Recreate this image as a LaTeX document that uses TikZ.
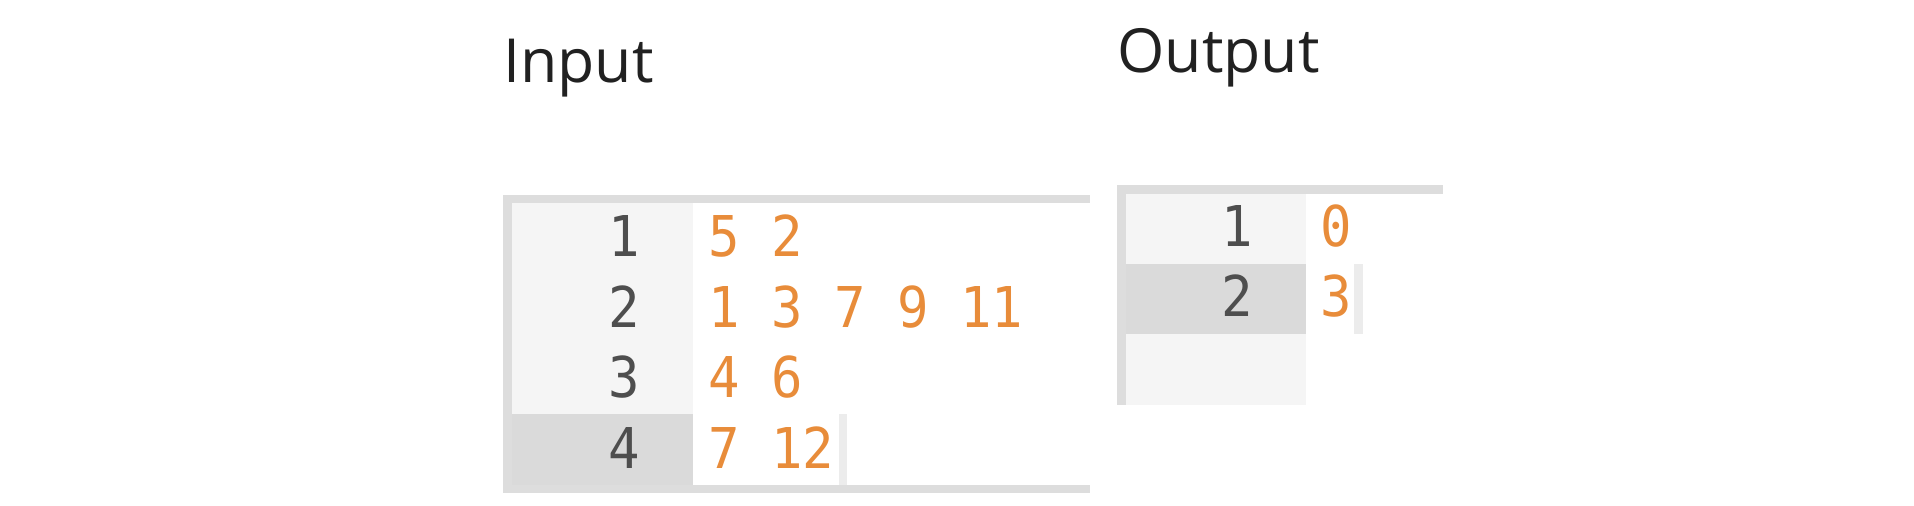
\documentclass[tikz,border=0pt]{standalone}
\usepackage{fontspec}
\setmainfont{Open Sans}
\setmonofont[FakeStretch=0.93]{DejaVu Sans Mono}
\usetikzlibrary{positioning}
\definecolor{codeorange}{RGB}{232,140,58}
\definecolor{numgray}{RGB}{78,78,78}
\definecolor{framegray}{RGB}{221,221,221}
\definecolor{guttergray}{RGB}{245,245,245}
\definecolor{activegray}{RGB}{218,218,218}
\definecolor{cursorgray}{RGB}{236,236,236}

\begin{document}
\begin{tikzpicture}[x=0.02cm, y=-0.02cm]
 \tikzset{
title/.style = {anchor=base west, inner sep=0, text=black!87, font=\fontsize{34.6}{41}\selectfont},
linenum/.style = {anchor=base east, inner sep=0, text=numgray, font=\ttfamily\fontsize{32}{38}\selectfont},
code/.style = {anchor=base west, inner sep=0, text=codeorange, font=\ttfamily\fontsize{32}{38}\selectfont},
frame/.style = {fill=framegray},
gutter/.style = {fill=guttergray},
active line/.style = {fill=activegray},
cursor/.style = {fill=cursorgray}}

    \useasboundingbox (0,0) rectangle (1914,506);

    \node [title] (InTitle) at (503,83) {Input};
    \node [title] (OutTitle) at (1117,73) {Output};

    \fill [frame] (503,195) rectangle (1090,203);
    \fill [frame] (503,203) rectangle (512,493);
    \fill [gutter] (512,203) rectangle (693,414);
    \fill [active line] (512,414) rectangle (693,485);
    \fill [frame] (512,485) rectangle (1090,493);
    \fill [cursor] (839,414) rectangle (847,485);

    \node [linenum] (InN1) at (640,257) {1};
    \node [linenum] (InN2) at (640,327.5) {2};
    \node [linenum] (InN3) at (640,398) {3};
    \node [linenum] (InN4) at (640,468.5) {4};
    \node [code] (In1) at (708,257) {5 2};
    \node [code] (In2) at (708,327.5) {1 3 7 9 11};
    \node [code] (In3) at (708,398) {4 6};
    \node [code] (In4) at (708,468.5) {7 12};

    \fill [frame] (1117,185) rectangle (1443,194);
    \fill [frame] (1117,194) rectangle (1126,405);
    \fill [gutter] (1126,194) rectangle (1306,264);
    \fill [active line] (1126,264) rectangle (1306,334);
    \fill [gutter] (1126,334) rectangle (1306,405);
    \fill [cursor] (1354,264) rectangle (1363,334);

    \node [linenum] (OutN1) at (1253,247) {1};
    \node [linenum] (OutN2) at (1253,317) {2};
    \node [code] (Out1) at (1320,247) {0};
    \node [code] (Out2) at (1320,317) {3};

  \end{tikzpicture}
\end{document}
